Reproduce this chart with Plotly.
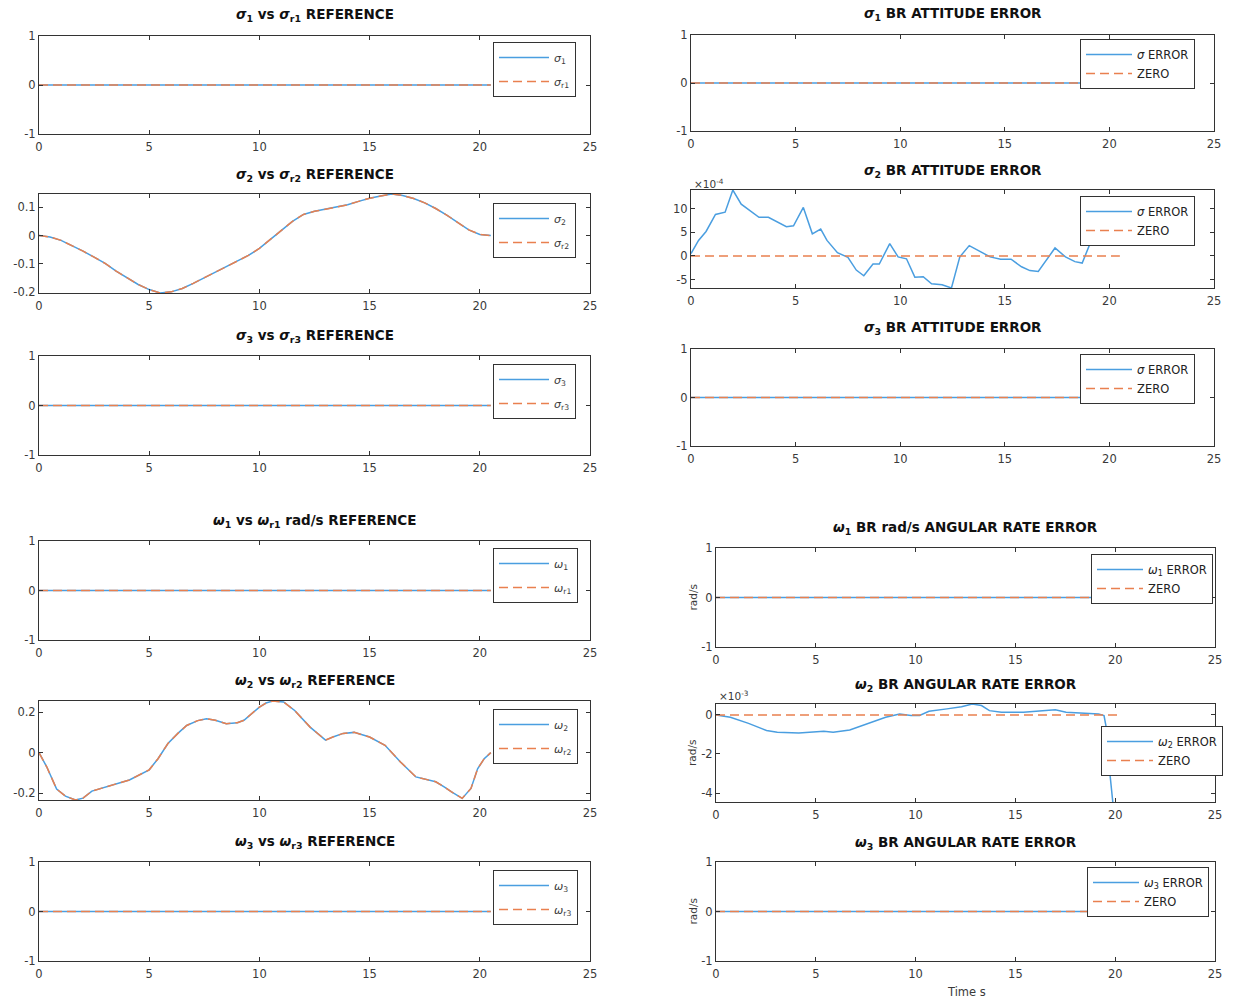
import plotly.graph_objects as go

W, H = 1233, 1002

# ---------------- data ----------------
# signals that are identically zero over the run
t_run = [0, 20.5]
sigma1 = [0, 0]
sigma_r1 = [0, 0]
sigma3 = [0, 0]
sigma_r3 = [0, 0]
omega1 = [0, 0]
omega_r1 = [0, 0]
omega3 = [0, 0]
omega_r3 = [0, 0]
sigma1_err = [0, 0]
sigma3_err = [0, 0]
zero_sig = [0, 0]

t_rate_err = [0, 20.15]
omega1_err = [0, 0]
omega3_err = [0, 0]
zero_rate = [0, 0]

# sigma_2 vs reference
t_sigma2 = [0, 0.5, 1, 1.5, 2, 2.5, 3, 3.5, 4, 4.5, 5, 5.5, 6, 6.5, 7, 7.5, 8, 8.5, 9, 9.5,
            10, 10.5, 11, 11.5, 12, 12.5, 13, 13.5, 14, 14.5, 15, 15.5, 16, 16.5, 17, 17.5,
            18, 18.5, 19, 19.5, 20, 20.5]
sigma2 = [0, -0.005, -0.017, -0.035, -0.055, -0.076, -0.098, -0.125, -0.150, -0.172, -0.190,
          -0.202, -0.198, -0.186, -0.168, -0.148, -0.128, -0.108, -0.090, -0.070, -0.045,
          -0.015, 0.018, 0.050, 0.074, 0.085, 0.093, 0.100, 0.108, 0.120, 0.131, 0.139,
          0.146, 0.141, 0.130, 0.115, 0.095, 0.072, 0.045, 0.020, 0.004, 0.0]
sigma_r2 = [0, -0.005, -0.017, -0.035, -0.055, -0.076, -0.098, -0.125, -0.150, -0.172, -0.190,
            -0.202, -0.198, -0.186, -0.168, -0.148, -0.128, -0.108, -0.090, -0.070, -0.045,
            -0.015, 0.018, 0.050, 0.074, 0.085, 0.093, 0.100, 0.108, 0.120, 0.131, 0.139,
            0.146, 0.141, 0.130, 0.115, 0.095, 0.072, 0.045, 0.020, 0.004, 0.0]

# omega_2 vs reference (rad/s)
t_omega2 = [0, 0.35, 0.8, 1.2, 1.65, 2.0, 2.4, 3.2, 4.1, 5.0, 5.4, 5.85, 6.3, 6.7, 7.2, 7.6,
            8.0, 8.5, 9.0, 9.3, 9.7, 10.0, 10.3, 10.6, 11.1, 11.6, 12.3, 13.0, 13.4, 13.8,
            14.3, 15.0, 15.7, 16.4, 17.1, 17.6, 18.0, 18.4, 18.7, 19.2, 19.6, 19.9, 20.2, 20.5]
omega2 = [0, -0.07, -0.18, -0.215, -0.234, -0.225, -0.19, -0.165, -0.135, -0.085, -0.03,
          0.045, 0.095, 0.134, 0.158, 0.167, 0.16, 0.143, 0.148, 0.16, 0.2, 0.225, 0.245,
          0.255, 0.25, 0.208, 0.126, 0.062, 0.08, 0.095, 0.10, 0.077, 0.036, -0.046, -0.12,
          -0.132, -0.144, -0.17, -0.193, -0.226, -0.177, -0.08, -0.03, 0.0]
omega_r2 = list(omega2)

# sigma_2 BR attitude error
t_sigma2_err = [0, 0.36, 0.72, 1.17, 1.63, 2.0, 2.4, 2.9, 3.25, 3.7, 4.16, 4.56, 4.9, 5.37,
                5.8, 6.2, 6.5, 7.0, 7.5, 7.9, 8.26, 8.7, 9.0, 9.5, 9.9, 10.3, 10.7, 11.1,
                11.5, 12.0, 12.45, 12.85, 13.3, 13.75, 14.3, 14.8, 15.3, 15.8, 16.2, 16.6,
                17.4, 17.9, 18.35, 18.7, 19.2, 19.6, 20.0, 20.5]
sigma2_err = [0.5e-4, 3.3e-4, 5.2e-4, 8.8e-4, 9.3e-4, 14.0e-4, 11.0e-4, 9.4e-4, 8.2e-4,
              8.2e-4, 7.1e-4, 6.2e-4, 6.4e-4, 10.3e-4, 4.7e-4, 5.7e-4, 3.3e-4, 0.7e-4,
              -0.3e-4, -3.0e-4, -4.2e-4, -1.7e-4, -1.7e-4, 2.6e-4, -0.2e-4, -0.6e-4,
              -4.5e-4, -4.4e-4, -5.9e-4, -6.1e-4, -6.8e-4, -0.2e-4, 2.2e-4, 1.2e-4,
              -0.2e-4, -0.7e-4, -0.7e-4, -2.3e-4, -3.1e-4, -3.3e-4, 1.7e-4, -0.2e-4,
              -1.2e-4, -1.5e-4, 4.0e-4, 7.5e-4, 9.0e-4, 9.0e-4]

# omega_2 BR angular rate error (rad/s)
t_omega2_err = [0, 0.72, 1.63, 2.53, 3.07, 4.15, 5.4, 5.87, 6.7, 7.8, 8.5, 9.2, 9.77, 10.2,
                10.67, 11.57, 12.3, 12.84, 13.3, 13.7, 14.3, 15.4, 16.45, 17.0, 17.54,
                18.44, 19.17, 19.44, 19.58, 19.72, 19.88]
omega2_err = [0, -0.12e-3, -0.43e-3, -0.8e-3, -0.89e-3, -0.93e-3, -0.84e-3, -0.89e-3,
              -0.77e-3, -0.38e-3, -0.12e-3, 0.05e-3, -0.03e-3, -0.03e-3, 0.19e-3, 0.31e-3,
              0.42e-3, 0.56e-3, 0.48e-3, 0.22e-3, 0.14e-3, 0.14e-3, 0.22e-3, 0.26e-3,
              0.14e-3, 0.10e-3, 0.05e-3, -0.03e-3, -0.8e-3, -2.86e-3, -4.46e-3]

x_ticks = [0, 5, 10, 15, 20, 25]
unit_ticks = [-1, 0, 1]
sigma2_ticks = [-0.2, -0.1, 0, 0.1]
omega2_ticks = [-0.2, 0, 0.2]
sigma2_err_ticks = [-5, 0, 5, 10]      # x 1e-4
omega2_err_ticks = [-4, -2, 0]         # x 1e-3

# ---------------- styling ----------------
BLUE = '#4a9ee0'
ORANGE = '#e9804f'
AXC = '#333333'
TICKC = '#3a3a3a'
FONT = 'DejaVu Sans'
DASH = '9px,5px'

def fx(p):
    return p / W

def fy(p):
    return 1 - p / H

def fmt(v):
    return '%g' % v

S = '<i>σ</i>'
O = '<i>ω</i>'

# panel geometry (pixels): x0, x1, top, bottom
L = (39, 590)
RS = (691, 1214)
RW = (716, 1215)

panels = [
    # left column
    dict(xp=L, yp=(36, 134), title=f'{S}<sub>1</sub> vs {S}<sub>r1</sub> REFERENCE', ty=15,
         t=(t_run, t_run), y=(sigma1, sigma_r1), names=(f'{S}<sub>1</sub>', f'{S}<sub>r1</sub>'),
         rng=(-1, 1), ticks=unit_ticks, scale=1, leg=(493, 42), lw='left'),
    dict(xp=L, yp=(194, 293), title=f'{S}<sub>2</sub> vs {S}<sub>r2</sub> REFERENCE', ty=175,
         t=(t_sigma2, t_sigma2), y=(sigma2, sigma_r2), names=(f'{S}<sub>2</sub>', f'{S}<sub>r2</sub>'),
         rng=None, ticks=sigma2_ticks, scale=1, leg=(493, 203), lw='left'),
    dict(xp=L, yp=(356, 455), title=f'{S}<sub>3</sub> vs {S}<sub>r3</sub> REFERENCE', ty=336,
         t=(t_run, t_run), y=(sigma3, sigma_r3), names=(f'{S}<sub>3</sub>', f'{S}<sub>r3</sub>'),
         rng=(-1, 1), ticks=unit_ticks, scale=1, leg=(493, 364), lw='left'),
    dict(xp=L, yp=(541, 640), title=f'{O}<sub>1</sub> vs {O}<sub>r1</sub> rad/s REFERENCE', ty=521,
         t=(t_run, t_run), y=(omega1, omega_r1), names=(f'{O}<sub>1</sub>', f'{O}<sub>r1</sub>'),
         rng=(-1, 1), ticks=unit_ticks, scale=1, leg=(493, 548), lw='left'),
    dict(xp=L, yp=(701, 800), title=f'{O}<sub>2</sub> vs {O}<sub>r2</sub> REFERENCE', ty=681,
         t=(t_omega2, t_omega2), y=(omega2, omega_r2), names=(f'{O}<sub>2</sub>', f'{O}<sub>r2</sub>'),
         rng=None, ticks=omega2_ticks, scale=1, leg=(493, 709), lw='left'),
    dict(xp=L, yp=(862, 961), title=f'{O}<sub>3</sub> vs {O}<sub>r3</sub> REFERENCE', ty=842,
         t=(t_run, t_run), y=(omega3, omega_r3), names=(f'{O}<sub>3</sub>', f'{O}<sub>r3</sub>'),
         rng=(-1, 1), ticks=unit_ticks, scale=1, leg=(493, 870), lw='left'),
    # right column
    dict(xp=RS, yp=(35, 131), title=f'{S}<sub>1</sub> BR ATTITUDE ERROR', ty=14,
         t=(t_run, t_run), y=(sigma1_err, zero_sig), names=(f'{S} ERROR', 'ZERO'),
         rng=(-1, 1), ticks=unit_ticks, scale=1, leg=(1080, 42), lw='right'),
    dict(xp=RS, yp=(190, 288), title=f'{S}<sub>2</sub> BR ATTITUDE ERROR', ty=171,
         t=(t_sigma2_err, t_run), y=(sigma2_err, zero_sig), names=(f'{S} ERROR', 'ZERO'),
         rng=None, ticks=sigma2_err_ticks, scale=1e4, leg=(1080, 199), lw='right'),
    dict(xp=RS, yp=(349, 446), title=f'{S}<sub>3</sub> BR ATTITUDE ERROR', ty=328,
         t=(t_run, t_run), y=(sigma3_err, zero_sig), names=(f'{S} ERROR', 'ZERO'),
         rng=(-1, 1), ticks=unit_ticks, scale=1, leg=(1080, 357), lw='right'),
    dict(xp=RW, yp=(548, 647), title=f'{O}<sub>1</sub> BR rad/s ANGULAR RATE ERROR', ty=528,
         t=(t_rate_err, t_rate_err), y=(omega1_err, zero_rate),
         names=(f'{O}<sub>1</sub> ERROR', 'ZERO'),
         rng=(-1, 1), ticks=unit_ticks, scale=1, leg=(1091, 557), lw='right', ylab=True),
    dict(xp=RW, yp=(704, 802), title=f'{O}<sub>2</sub> BR ANGULAR RATE ERROR', ty=685,
         t=(t_omega2_err, t_rate_err), y=(omega2_err, zero_rate),
         names=(f'{O}<sub>2</sub> ERROR', 'ZERO'),
         rng=None, ticks=omega2_err_ticks, scale=1e3, leg=(1101, 729), lw='right', ylab=True),
    dict(xp=RW, yp=(862, 961), title=f'{O}<sub>3</sub> BR ANGULAR RATE ERROR', ty=843,
         t=(t_rate_err, t_rate_err), y=(omega3_err, zero_rate),
         names=(f'{O}<sub>3</sub> ERROR', 'ZERO'),
         rng=(-1, 1), ticks=unit_ticks, scale=1, leg=(1087, 870), lw='right', ylab=True),
]

fig = go.Figure()
layout = dict(width=W, height=H, margin=dict(l=0, r=0, t=0, b=0, pad=0, autoexpand=False),
              paper_bgcolor='white', plot_bgcolor='white', showlegend=True,
              annotations=[])

for i, p in enumerate(panels, start=1):
    xa = 'x' if i == 1 else f'x{i}'
    ya = 'y' if i == 1 else f'y{i}'
    leg = 'legend' if i == 1 else f'legend{i}'
    sc = p['scale']
    ys = [[v * sc for v in arr] for arr in p['y']]
    fig.add_trace(go.Scatter(x=p['t'][0], y=ys[0], mode='lines', name=p['names'][0],
                             line=dict(color=BLUE, width=1.5), xaxis=xa, yaxis=ya,
                             legend=leg, legendgroup=f'a{i}', hoverinfo='skip'))
    fig.add_trace(go.Scatter(x=p['t'][1], y=ys[1], mode='lines', name=p['names'][1],
                             line=dict(color=ORANGE, width=1.5, dash=DASH), xaxis=xa, yaxis=ya,
                             legend=leg, legendgroup=f'b{i}', hoverinfo='skip'))
    if p['rng'] is None:
        allv = ys[0] + ys[1]
        rng = [min(allv), max(allv)]
    else:
        rng = list(p['rng'])
    axkey = '' if i == 1 else str(i)
    common = dict(showline=True, linecolor=AXC, linewidth=1, mirror='ticks',
                  ticks='inside', ticklen=4, tickcolor=AXC, showgrid=False, zeroline=False,
                  automargin=False,
                  tickfont=dict(family=FONT, size=11.5, color=TICKC), fixedrange=True)
    layout['xaxis' + axkey] = dict(domain=[fx(p['xp'][0]), fx(p['xp'][1])], anchor=ya,
                                   range=[0, 25], tickvals=x_ticks, ticklabelstandoff=2,
                                   ticktext=[fmt(v) for v in x_ticks], **common)
    layout['yaxis' + axkey] = dict(domain=[fy(p['yp'][1]), fy(p['yp'][0])], anchor=xa,
                                   range=rng, tickvals=p['ticks'],
                                   ticktext=[fmt(v) for v in p['ticks']], **common)
    # title
    layout['annotations'].append(dict(
        text='<b>' + p['title'] + '</b>', x=fx((p['xp'][0] + p['xp'][1]) / 2), y=fy(p['ty']),
        xref='paper', yref='paper', xanchor='center', yanchor='middle', showarrow=False,
        font=dict(family=FONT, size=13.5, color='#111111')))
    if p.get('ylab'):
        layout['annotations'].append(dict(
            text='rad/s', x=fx(692), y=fy((p['yp'][0] + p['yp'][1]) / 2), xref='paper',
            yref='paper', xanchor='center', yanchor='middle', textangle=-90, showarrow=False,
            font=dict(family=FONT, size=10.5, color=TICKC)))
    # legend
    if p['lw'] == 'left':
        lfont = dict(family=FONT, size=11, color=TICKC)
        gap = 5
        iw = 50
        ly = p['leg'][1]
    else:
        lfont = dict(family=FONT, size=11.5, color='#222222')
        gap = 0
        iw = 46
        ly = p['leg'][1] - 3
    layout[leg] = dict(x=fx(p['leg'][0]), y=fy(ly), xref='paper', yref='paper',
                       xanchor='left', yanchor='top', bgcolor='white', bordercolor=AXC,
                       borderwidth=1, font=lfont, itemwidth=iw, tracegroupgap=gap,
                       traceorder='grouped', itemclick=False, itemdoubleclick=False)

# exponent labels
layout['annotations'].append(dict(text='×10<sup>-4</sup>', x=fx(692), y=fy(183), xref='paper',
                                  yref='paper', xanchor='left', yanchor='middle',
                                  showarrow=False, font=dict(family=FONT, size=10.5, color=TICKC)))
layout['annotations'].append(dict(text='×10<sup>-3</sup>', x=fx(717), y=fy(695), xref='paper',
                                  yref='paper', xanchor='left', yanchor='middle',
                                  showarrow=False, font=dict(family=FONT, size=10.5, color=TICKC)))
layout['annotations'].append(dict(text='Time s', x=fx(966), y=fy(992), xref='paper',
                                  yref='paper', xanchor='center', yanchor='middle',
                                  showarrow=False, font=dict(family=FONT, size=11.5, color=TICKC)))

fig.update_layout(**layout)
fig.write_html('out.html', config={'displayModeBar': False},
               post_script="document.body.style.margin='0px';document.body.style.overflow='hidden';")
